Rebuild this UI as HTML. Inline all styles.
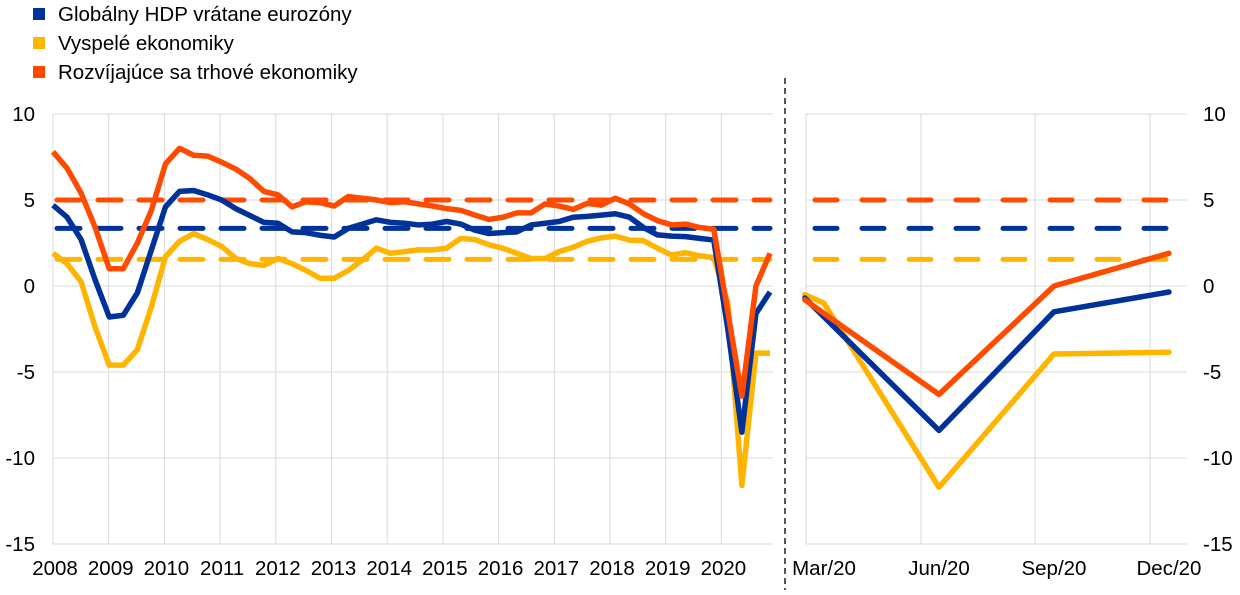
<!DOCTYPE html>
<html><head><meta charset="utf-8"><style>
body{margin:0;background:#fff;font-family:"Liberation Sans",Arial,sans-serif}
svg text{font-family:"Liberation Sans",Arial,sans-serif;font-size:20.5px;fill:#000}
</style></head><body>
<svg id="chart" width="1240" height="590" viewBox="0 0 1240 590">
<g id="legend">
<g><rect x="33" y="8" width="12" height="12" fill="#003299"/><text x="58" y="21">Globálny HDP vrátane eurozóny</text></g>
<g><rect x="33" y="37" width="12" height="12" fill="#FFB400"/><text x="58" y="50">Vyspelé ekonomiky</text></g>
<g><rect x="33" y="66" width="12" height="12" fill="#FF4B00"/><text x="58" y="79">Rozvíjajúce sa trhové ekonomiky</text></g>
</g>
<line x1="785" y1="78" x2="785" y2="590" stroke="#555" stroke-width="2" stroke-dasharray="6,4"/>
<g id="grid"></g>
<g id="marks"></g>
<g id="labels"></g>
</svg>
<script>
const years = ["2008","2009","2010","2011","2012","2013","2014","2015","2016","2017","2018","2019","2020"];
const yTicks = [10,5,0,-5,-10,-15];
const globalQ = [4.7,4.0,2.7,0.35,-1.8,-1.7,-0.4,2.1,4.6,5.5,5.55,5.3,5.0,4.5,4.1,3.7,3.65,3.15,3.1,2.95,2.85,3.35,3.6,3.85,3.7,3.65,3.55,3.6,3.75,3.6,3.25,3.05,3.1,3.15,3.55,3.65,3.75,4.0,4.05,4.12,4.2,4.0,3.4,2.97,2.9,2.87,2.77,2.67,-2.5,-8.5,-1.6,-0.35];
const advancedQ = [1.9,1.3,0.25,-2.4,-4.6,-4.6,-3.7,-1.2,1.7,2.6,3.05,2.7,2.3,1.6,1.3,1.2,1.6,1.3,0.9,0.45,0.45,0.9,1.5,2.2,1.9,2.0,2.1,2.1,2.2,2.77,2.7,2.4,2.2,1.9,1.6,1.6,2.0,2.25,2.6,2.8,2.9,2.67,2.63,2.2,1.8,1.94,1.75,1.65,-1.0,-11.6,-3.9,-3.9];
const emergingQ = [7.8,6.85,5.4,3.4,1.0,1.0,2.5,4.4,7.1,8.0,7.6,7.55,7.2,6.8,6.25,5.5,5.3,4.6,4.9,4.85,4.65,5.2,5.1,5.0,4.85,4.9,4.77,4.65,4.5,4.4,4.13,3.87,4.0,4.25,4.25,4.77,4.65,4.46,4.8,4.7,5.1,4.77,4.2,3.8,3.55,3.6,3.4,3.3,-1.5,-6.4,0.0,1.9];
const avgGlobal = 3.35, avgAdvanced = 1.55, avgEmerging = 5.0;
const months = ["Mar/20","Jun/20","Sep/20","Dec/20"];
const rightX = [-0.5,0,3,6,9];
const globalR = [-0.7,-1.8,-8.4,-1.5,-0.35];
const advancedR = [-0.5,-1.0,-11.7,-3.95,-3.85];
const emergingR = [-0.8,-1.6,-6.3,0.0,1.9];

const NS="http://www.w3.org/2000/svg";
const yS = v => 286 - v*17.2;
const xL = k => 53 + k*(770-53)/51;
const xYear = j => 53 + j*55.7;
const xR = m => 824 + m*38.33;
const grid=document.getElementById('grid'), marks=document.getElementById('marks'), labels=document.getElementById('labels');
function mk(tag, parent, attrs){const e=document.createElementNS(NS,tag);for(const k in attrs)e.setAttribute(k,attrs[k]);parent.appendChild(e);return e;}
yTicks.forEach(v=>{
  let l=mk('line',grid,{x1:53,x2:773,y1:yS(v),y2:yS(v),stroke:'#d9d9d9','stroke-width':1});
  
  
  let r=mk('line',grid,{x1:806,x2:1187,y1:yS(v),y2:yS(v),stroke:'#d9d9d9','stroke-width':1});
  
  
  let t=mk('text',labels,{x:35,y:yS(v)+7,'text-anchor':'end'});t.textContent=v;
  
  
  let t2=mk('text',labels,{x:1203,y:yS(v)+7});t2.textContent=v;
  
  
});
years.forEach((y,j)=>{
  let l=mk('line',grid,{x1:xYear(j),x2:xYear(j),y1:yS(10),y2:yS(-15),stroke:'#d9d9d9','stroke-width':1});
  
  
  let t=mk('text',labels,{x:xYear(j)+2,y:575,'text-anchor':'middle'});t.textContent=y;
  
  
});
[806,921,1035,1150].forEach(x=>{
  let l=mk('line',grid,{x1:x,x2:x,y1:yS(10),y2:yS(-15),stroke:'#d9d9d9','stroke-width':1});
  
  
});
months.forEach((m,i)=>{
  let t=mk('text',labels,{x:xR(i*3),y:575,'text-anchor':'middle'});t.textContent=m;
  
  
});
[[avgEmerging,'#FF4B00','avg-emerging'],[avgGlobal,'#003299','avg-global'],[avgAdvanced,'#FFB400','avg-advanced']].forEach(a=>{
  let l=mk('line',marks,{x1:57,x2:770,y1:yS(a[0]),y2:yS(a[0]),stroke:a[1],'stroke-width':5,'stroke-dasharray':'23,18','stroke-linecap':'round'});
  
  
  let r=mk('line',marks,{x1:815,x2:1170,y1:yS(a[0]),y2:yS(a[0]),stroke:a[1],'stroke-width':5,'stroke-dasharray':'22,25','stroke-linecap':'round'});
  
  
});
[[advancedQ,advancedR,'#FFB400','advanced'],[globalQ,globalR,'#003299','global'],[emergingQ,emergingR,'#FF4B00','emerging']].forEach(s=>{
  let p=mk('polyline',marks,{points:s[0].map((v,k)=>xL(k)+','+yS(v)).join(' '),fill:'none',stroke:s[2],'stroke-width':5.5,'stroke-linejoin':'round'});
  
  
  let q=mk('polyline',marks,{points:s[1].map((v,k)=>xR(rightX[k])+','+yS(v)).join(' '),fill:'none',stroke:s[2],'stroke-width':5.5,'stroke-linejoin':'round','stroke-linecap':'round'});
  
  
});
</script>
</body></html>
